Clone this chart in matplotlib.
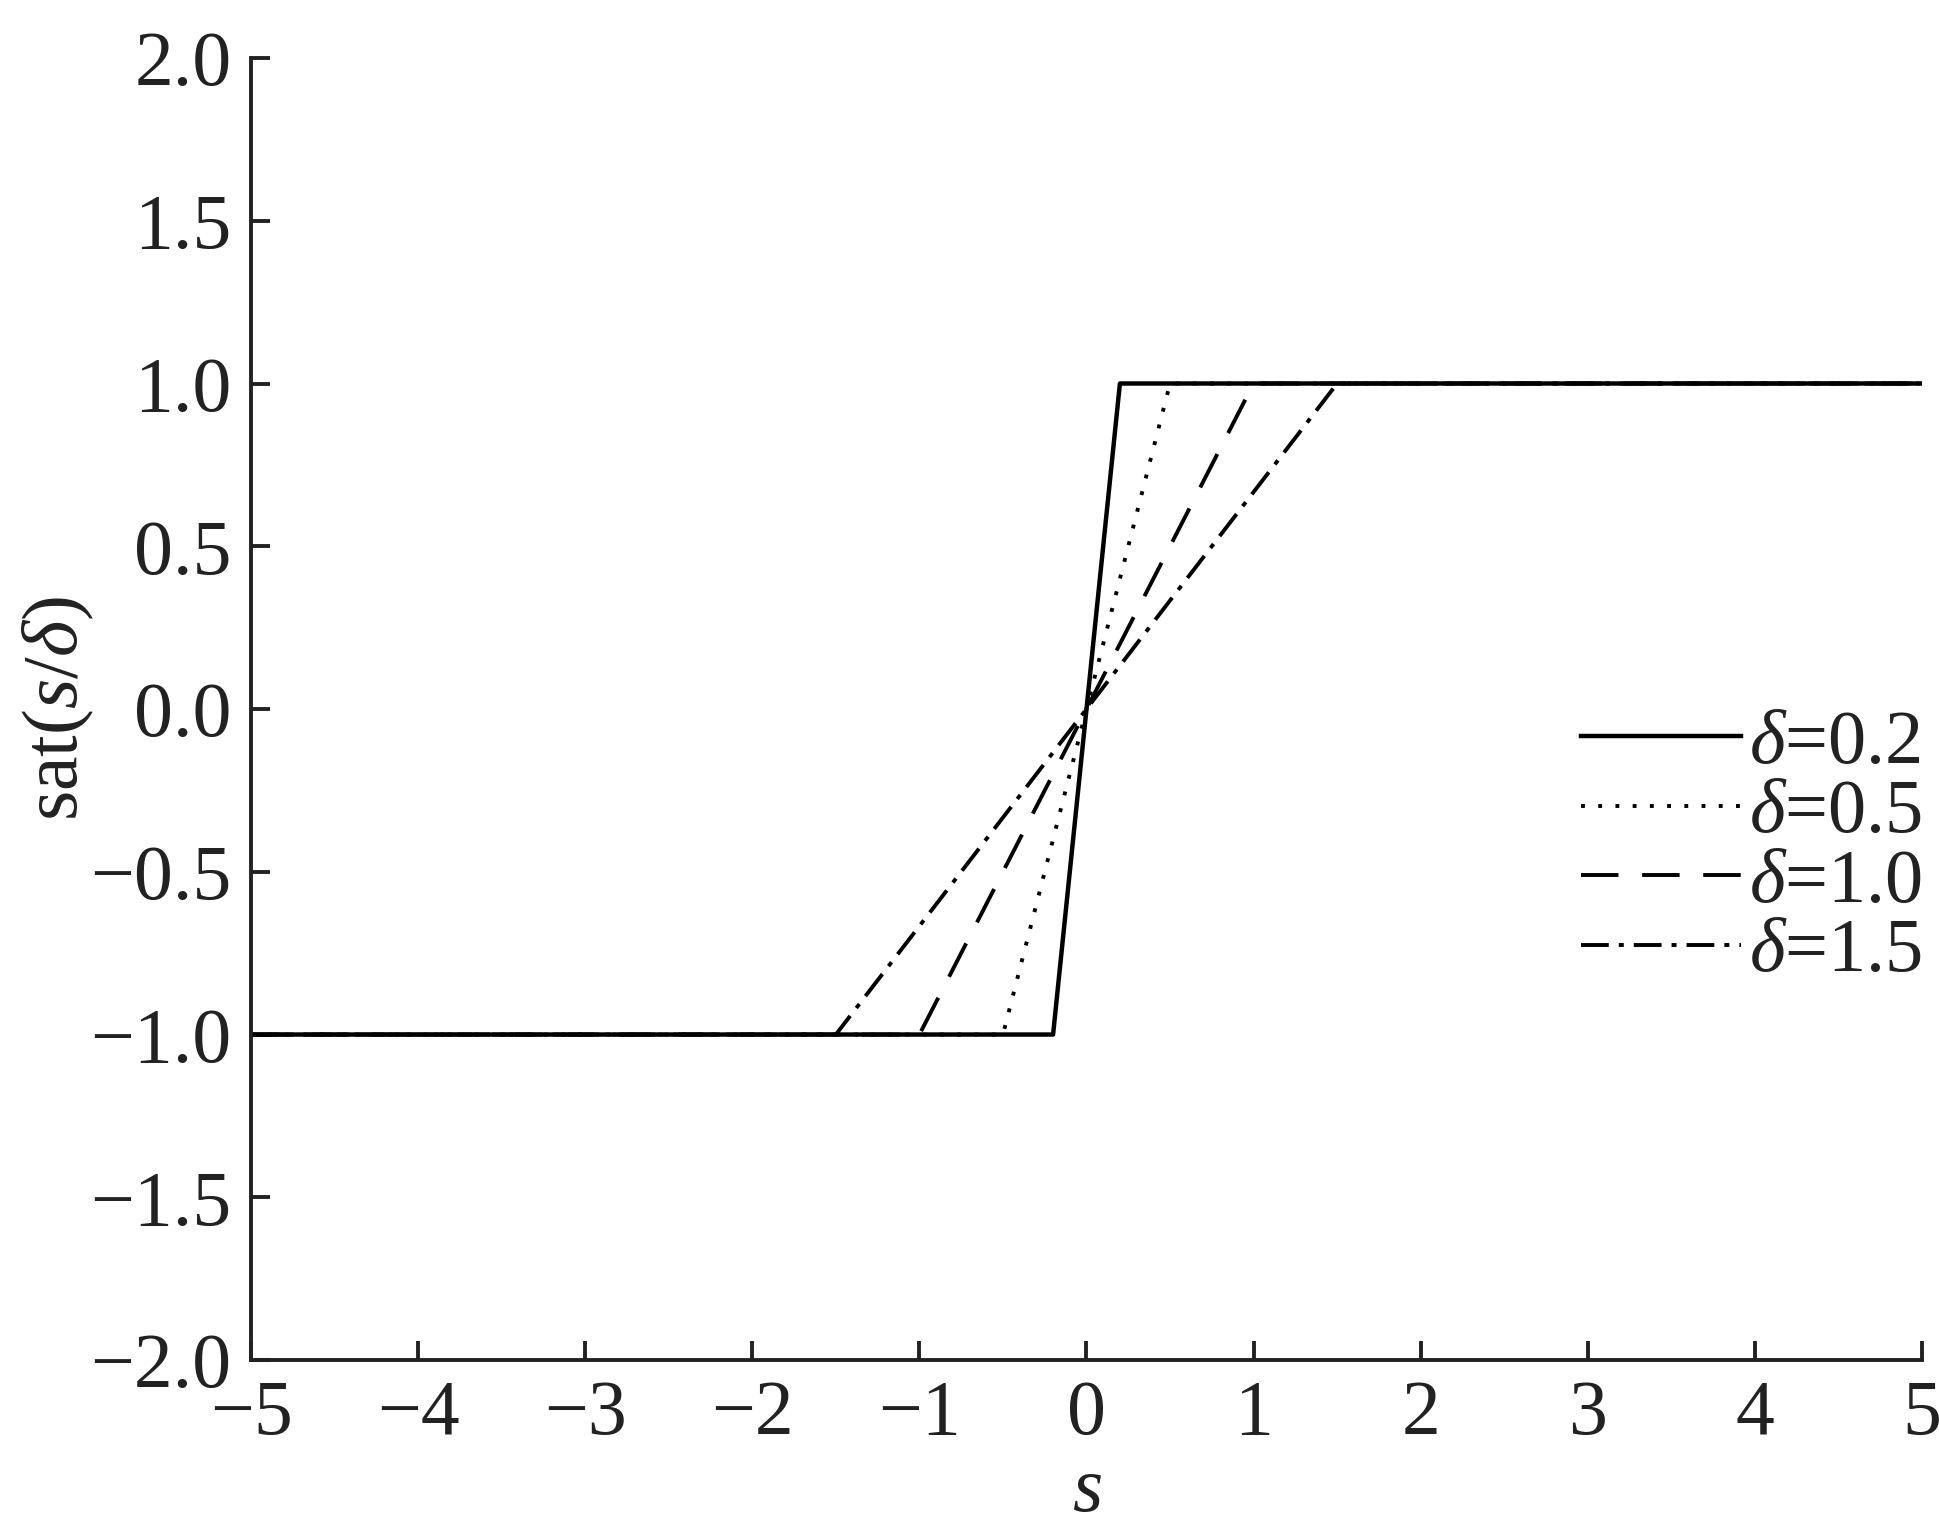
import matplotlib
matplotlib.use('Agg')
from matplotlib import pyplot as plt

plt.rcParams['font.family'] = ['Liberation Serif', 'DejaVu Serif']
plt.rcParams['mathtext.fontset'] = 'custom'
plt.rcParams['mathtext.rm'] = 'Liberation Serif'
plt.rcParams['mathtext.it'] = 'Liberation Serif:italic'
plt.rcParams['lines.scale_dashes'] = False

# breakpoints of sat(s/delta) for each delta
deltas = ['0.2', '0.5', '1.0', '1.5']
s_02 = [-5, -0.2, 0.2, 5]
s_05 = [-5, -0.5, 0.5, 5]
s_10 = [-5, -1.0, 1.0, 5]
s_15 = [-5, -1.5, 1.5, 5]
sat_y = [-1, -1, 1, 1]

xticks = [-5, -4, -3, -2, -1, 0, 1, 2, 3, 4, 5]
yticks = [-2.0, -1.5, -1.0, -0.5, 0.0, 0.5, 1.0, 1.5, 2.0]

fig = plt.figure(figsize=(9.7, 7.69), dpi=200)
ax = fig.add_axes([0.1294, 0.1157, 0.8613, 0.8466])

ax.plot(s_02, sat_y, c='black', lw=1.6, ls='-', label=r'$\delta$=' + deltas[0])
ax.plot(s_05, sat_y, c='black', lw=1.4, ls=(0, (1.4, 4.8)), label=r'$\delta$=' + deltas[1])
ax.plot(s_10, sat_y, c='black', lw=1.4, ls=(0, (13.5, 8.5)), label=r'$\delta$=' + deltas[2])
ax.plot(s_15, sat_y, c='black', lw=1.4, ls=(0, (10, 3.6, 1.8, 3.6)), label=r'$\delta$=' + deltas[3])

ax.set_xlim(-5, 5)
ax.set_ylim(-2, 2)
ax.set_xticks(xticks)
ax.set_yticks(yticks)
ax.set_yticklabels(['%.1f' % v if v >= 0 else '\u2212%.1f' % -v for v in yticks])

for side in ['top', 'right']:
    ax.spines[side].set_visible(False)
for side in ['left', 'bottom']:
    ax.spines[side].set_linewidth(1.4)
    ax.spines[side].set_color('#222222')

ax.tick_params(axis='both', direction='in', length=7, width=1.4, color='#222222',
               labelsize=28, labelcolor='#222222', pad=7)

ax.set_xlabel(r'$s$', fontsize=28, color='#222222', labelpad=2)
ax.set_ylabel(r'$\mathrm{sat}(s/\delta)$', fontsize=28, color='#222222', labelpad=-2)

leg = ax.legend(loc='center right', bbox_to_anchor=(1.0, 0.393), frameon=False,
                fontsize=27.5, handlelength=2.1, handletextpad=0.1, labelspacing=0.0,
                borderpad=0, borderaxespad=0)
for t in leg.get_texts():
    t.set_color('#222222')

plt.savefig('out.png', dpi=200)
